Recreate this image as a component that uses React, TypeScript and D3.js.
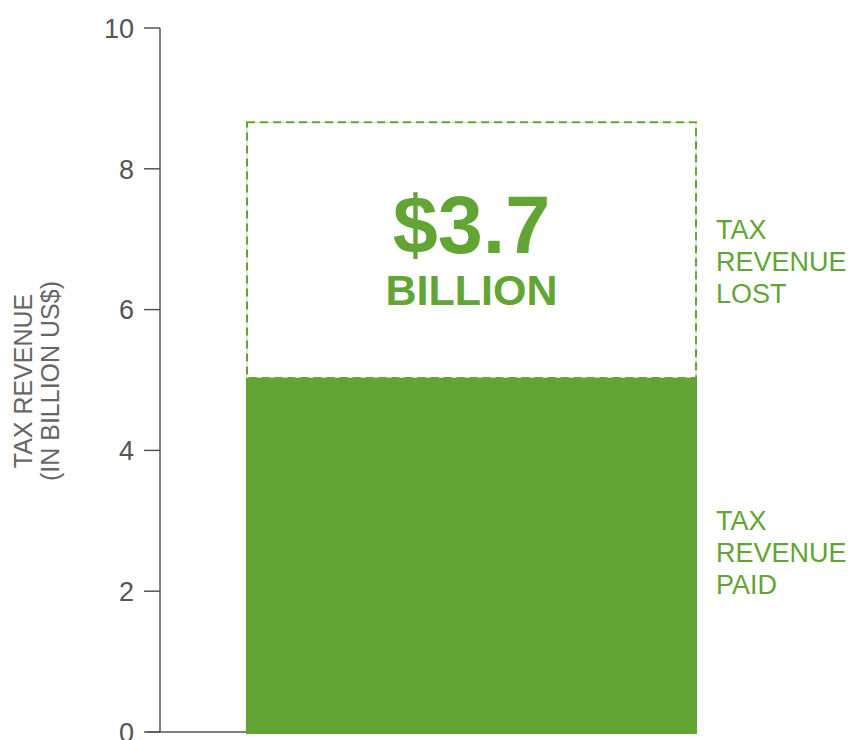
import React from "react";
import * as d3 from "d3";

const categories = ["Tax revenue"];
const paidValues = [5.03];
const lostValues = [3.63];
const yTicks = [0, 2, 4, 6, 8, 10];
const lostLabel = ["TAX", "REVENUE", "LOST"];
const paidLabel = ["TAX", "REVENUE", "PAID"];
const axisTitle = ["TAX REVENUE", "(IN BILLION US$)"];
const bigValue = "$3.7";
const bigUnit = "BILLION";

const W = 850;
const H = 740;
const GREEN = "#62a534";
const GRAY = "#555555";
const FONT = "'Liberation Sans', Arial, sans-serif";

export default function App() {
  const y = d3.scaleLinear().domain([0, 10]).range([732, 28]);
  const x = d3.scaleBand().domain(categories).range([246, 697]).paddingInner(0).paddingOuter(0);
  const axisX = 160;
  const cat = categories[0];
  const bx = x(cat) as number;
  const bw = x.bandwidth();
  const paid = paidValues[0];
  const lost = lostValues[0];
  const total = paid + lost;
  const cx = bx + bw / 2;

  return (
    <svg width={W} height={H} style={{ position: "absolute", left: 0, top: 0, background: "#fff" }} fontFamily={FONT}>
      {/* lost dashed box */}
      <rect x={bx + 1} y={y(total)} width={bw - 2} height={y(paid) - y(total)} fill="none" stroke="#d0d0d0" strokeWidth={1} />
      <rect x={bx + 1} y={y(total)} width={bw - 2} height={y(paid) - y(total)} fill="none" stroke={GREEN} strokeWidth={2} strokeDasharray="8 5" />
      {/* paid bar */}
      <rect x={bx} y={y(paid)} width={bw} height={y(0) - y(paid) + 2} fill={GREEN} />
      {/* axis */}
      <line x1={axisX} x2={axisX} y1={y(10)} y2={y(0)} stroke={GRAY} strokeWidth={1.5} />
      <line x1={147} x2={bx} y1={y(0)} y2={y(0)} stroke={GRAY} strokeWidth={1.5} />
      {yTicks.map((t) => (
        <g key={t}>
          <line x1={144} x2={axisX} y1={y(t)} y2={y(t)} stroke={GRAY} strokeWidth={1.5} />
          <text x={134} y={y(t)} dy="0.36em" textAnchor="end" fontSize={27} fill={GRAY}>
            {t}
          </text>
        </g>
      ))}
      {/* axis title */}
      <g transform={`translate(0, 381) rotate(-90)`}>
        {axisTitle.map((s, i) => (
          <text key={s} x={0} y={32 + i * 27} textAnchor="middle" fontSize={25} fill="#666">
            {s}
          </text>
        ))}
      </g>
      {/* big label */}
      <text x={cx} y={253} textAnchor="middle" fontSize={81} fontWeight="bold" fill={GREEN}>
        {bigValue}
      </text>
      <text x={cx} y={305} textAnchor="middle" fontSize={43} fontWeight="bold" fill={GREEN}>
        {bigUnit}
      </text>
      {/* side labels */}
      {lostLabel.map((s, i) => (
        <text key={"l" + i} x={716} y={239 + i * 32} fontSize={27} fill={GREEN}>
          {s}
        </text>
      ))}
      {paidLabel.map((s, i) => (
        <text key={"p" + i} x={716} y={530 + i * 32} fontSize={27} fill={GREEN}>
          {s}
        </text>
      ))}
    </svg>
  );
}
